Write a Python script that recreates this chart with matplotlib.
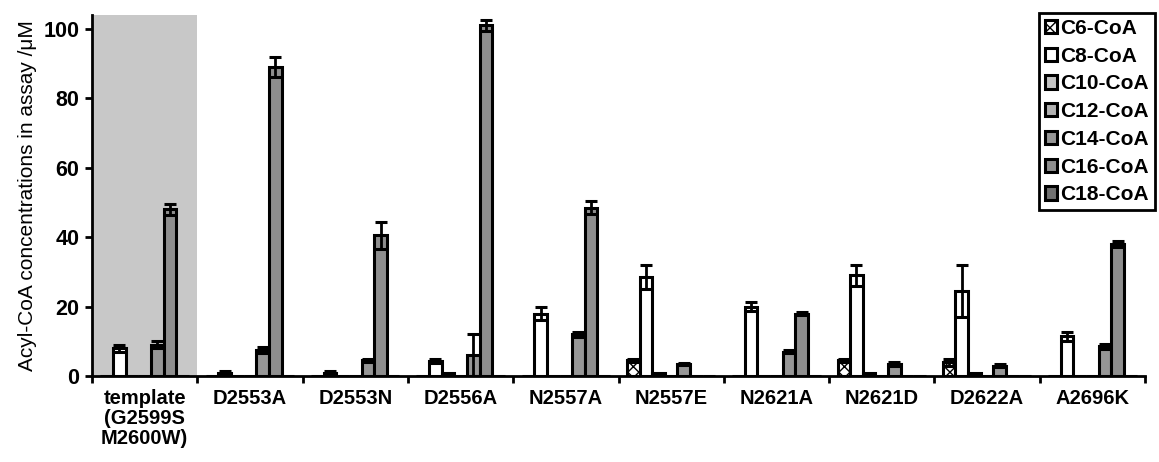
import numpy as np
import matplotlib
matplotlib.use("Agg")
import matplotlib.pyplot as plt

plt.rcParams['font.family'] = ['Liberation Sans', 'DejaVu Sans']
plt.rcParams['hatch.linewidth'] = 1.0

groups = ["template\n(G2599S\nM2600W)", "D2553A", "D2553N", "D2556A", "N2557A",
          "N2557E", "N2621A", "N2621D", "D2622A", "A2696K"]
series = ["C6-CoA", "C8-CoA", "C10-CoA", "C12-CoA", "C14-CoA", "C16-CoA", "C18-CoA"]

c6  = [0, 0, 0, 0, 0, 4.5, 0, 4.5, 4.0, 0]
c8  = [8, 1, 1, 4.3, 18, 28.5, 20, 29, 24.5, 11.5]
c10 = [0, 0, 0, 1, 0, 1, 0, 1, 1, 0]
c12 = [0, 0, 0, 0, 0, 0, 0, 0, 0, 0]
c14 = [9, 7.5, 4.5, 6, 12, 3.5, 7, 3.5, 3, 8.5]
c16 = [48, 89, 40.5, 101, 48.5, 0, 18, 0, 0, 38]
c18 = [0, 0, 0, 0, 0, 0, 0, 0, 0, 0]

e6  = [0, 0, 0, 0, 0, 0.5, 0, 0.5, 1.0, 0]
e8  = [1, 0.3, 0.3, 0.5, 2, 3.5, 1.3, 3, 7.5, 1.3]
e10 = [0, 0, 0, 0, 0, 0, 0, 0, 0, 0]
e12 = [0, 0, 0, 0, 0, 0, 0, 0, 0, 0]
e14 = [1, 0.8, 0.5, 6, 0.8, 0.3, 0.5, 0.5, 0.5, 0.8]
e16 = [1.5, 3, 4, 1.5, 1.8, 0, 0.5, 0, 0, 0.8]
e18 = [0, 0, 0, 0, 0, 0, 0, 0, 0, 0]

values = [c6, c8, c10, c12, c14, c16, c18]
errors = [e6, e8, e10, e12, e14, e16, e18]
colors = ["white", "white", "#c4c4c4", "#b2b2b2", "#969696", "#8e8e8e", "#707070"]
hatches = ["xxx", None, None, None, None, None, None]

fig = plt.figure(figsize=(11.59, 4.62), dpi=100)
ax = fig.add_axes([92/1159, 1-376/462, (1145-92)/1159, (376-15)/462])

ax.axvspan(0, 1, color="#c8c8c8", zorder=0, lw=0)

x = np.arange(len(groups))
bw = 0.12
for k, (vals, errs) in enumerate(zip(values, errors)):
    pos = x + 0.08 + bw * k + bw / 2
    ax.bar(pos, vals, width=bw, color=colors[k], edgecolor="black", linewidth=2.2,
           hatch=hatches[k], label=series[k], zorder=2)
    mask = np.array(errs) > 0
    ax.errorbar(pos[mask], np.array(vals)[mask], yerr=np.array(errs)[mask], fmt="none",
                ecolor="black", elinewidth=2, capsize=4.5, capthick=2.2, zorder=3)

ax.set_xlim(0, 10)
ax.set_ylim(0, 104)
ax.set_yticks([0, 20, 40, 60, 80, 100])
ax.set_xticks(x + 0.5)
ax.set_xticklabels(groups, fontweight="bold", fontsize=14.5, linespacing=1.1)
ax.set_xticks(np.arange(0, 11), minor=True)
ax.tick_params(axis="x", which="major", length=0, pad=9)
ax.tick_params(axis="x", which="minor", length=5, width=2, direction="out")
ax.tick_params(axis="y", length=5, width=2, direction="out", labelsize=15.5, pad=4)
for lbl in ax.get_yticklabels():
    lbl.set_fontweight("bold")
for s in ["top", "right"]:
    ax.spines[s].set_visible(False)
for s in ["left", "bottom"]:
    ax.spines[s].set_linewidth(2)
    ax.spines[s].set_zorder(4)

ax.set_ylabel("Acyl-CoA concentrations in assay /μM", fontsize=15, labelpad=5)

leg = ax.legend(loc="upper right", bbox_to_anchor=(1155/1159, 1-13/462), bbox_transform=fig.transFigure,
                borderaxespad=0, prop={"weight": "bold", "size": 15}, frameon=True, fancybox=False,
                edgecolor="black", handlelength=0.6, handleheight=0.6, handletextpad=0.15,
                labelspacing=0.42, borderpad=0.28)
leg.get_frame().set_linewidth(2)
leg.get_frame().set_alpha(1)

fig.savefig("out.png", dpi=100)
